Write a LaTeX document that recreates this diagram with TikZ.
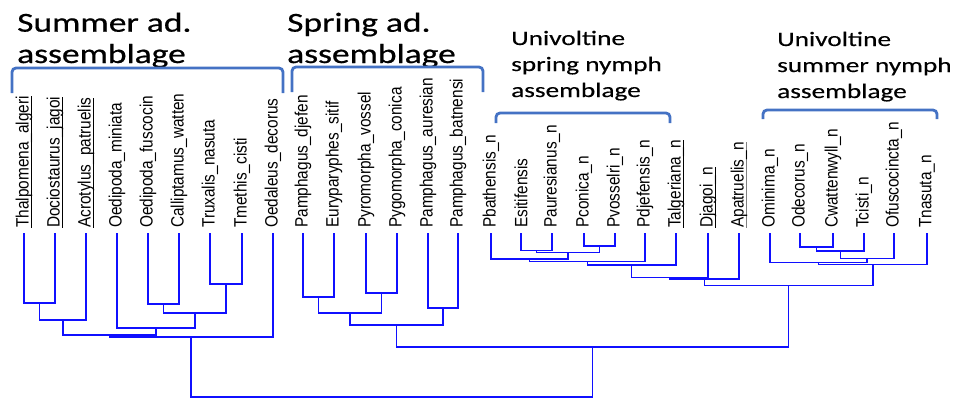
\documentclass[tikz,border=0pt]{standalone}
\usepackage{fontspec}
\usepackage{graphicx}
\setmainfont{Liberation Sans}
\newfontfamily\bigtitlefont[FakeStretch=1.29,FakeBold=0.6]{Carlito}
\newfontfamily\smalltitlefont[FakeStretch=1.33,FakeBold=0.4]{Carlito}
\usetikzlibrary{calc}
\definecolor{bracketblue}{HTML}{4472C4}
\definecolor{treeblue}{HTML}{1010FF}
\newcommand\splab[1]{\scalebox{1}[1.16]{#1}}
\newcommand\spulab[2][black]{\setbox0=\hbox{#2}\scalebox{1}[1.16]{\rlap{\color{#1}\rule[-2.6bp]{\wd0}{0.9bp}}\box0}}
\newcommand\joinat[4]{%
  \path let \p1=($(#2)!0.5!(#3)$), \p2=(0,#4) in coordinate (#1) at (\x1,\y2);
  \draw[tree] (#2) -- (#2 |- #1) -- (#3 |- #1) -- (#3);}
\begin{document}
\begin{tikzpicture}[x=1bp,y=-1bp,
  tree/.style={draw=treeblue, line width=1.5bp},
  bracket/.style={draw=bracketblue, line width=2.8bp, rounded corners=4bp},
  leaflabel/.style={rotate=90, anchor=west, inner sep=0pt, font=\fontsize{15.4bp}{18bp}\selectfont},
  bigtitle/.style={anchor=base west, inner sep=0pt, font=\bigtitlefont\fontsize{27.5bp}{31.3bp}\selectfont},
  smalltitle/.style={anchor=base west, inner sep=0pt, font=\smalltitlefont\fontsize{20.5bp}{26bp}\selectfont}]
\useasboundingbox (0,0) rectangle (959,401);

% titles
\node[bigtitle] (tsum) at (17,31.7) {\vtop{\hbox{Summer ad.}\hbox{assemblage}}};
\node[bigtitle] (tspr) at (287,31.7) {\vtop{\hbox{Spring ad.}\hbox{assemblage}}};
\node[smalltitle] (tusp) at (511,45) {\vtop{\hbox{Univoltine}\hbox{spring nymph}\hbox{assemblage}}};
\node[smalltitle] (tusu) at (777,46) {\vtop{\hbox{Univoltine}\hbox{summer nymph}\hbox{assemblage}}};

% brackets
\draw[bracket] (12,93) -- (12,68) -- (283,68) -- (283,93);
\draw[bracket] (292,92) -- (292,67) -- (483,67) -- (483,92);
\draw[bracket] (496,123) -- (496,113) -- (670,113) -- (670,123);
\draw[bracket] (763,119) -- (763,110) -- (937,110) -- (937,119);

% leaves
\foreach \n/\x in {l1/24,l2/55,l3/86,l4/117,l5/148,l6/179,l7/210,l8/242,l9/273,
  m1/303,m2/334,m3/366,m4/397,m5/428,m6/458,
  r1/491,r2/521,r3/552,r4/584,r5/615,r6/645,r7/676,r8/708,r9/739,
  s1/770,s2/800,s3/833,s4/864,s5/894,s6/927}
  {\coordinate (\n) at (\x,233);}

% labels
\node[leaflabel] (nl1) at (24,228) {\spulab{Thalpomena\_algeri}};
\node[leaflabel] (nl2) at (55,228) {\spulab{Dociostaurus\_jagoi}};
\node[leaflabel] (nl3) at (86,228) {\spulab{Acrotylus\_patruelis}};
\node[leaflabel] (nl4) at (117,228) {\splab{Oedipoda\_miniata}};
\node[leaflabel] (nl5) at (148,228) {\splab{Oedipoda\_fuscocin}};
\node[leaflabel] (nl6) at (179,228) {\splab{Calliptamus\_watten}};
\node[leaflabel] (nl7) at (210,228) {\splab{Truxalis\_nasuta}};
\node[leaflabel] (nl8) at (242,228) {\splab{Tmethis\_cisti}};
\node[leaflabel] (nl9) at (273,228) {\splab{Oedaleus\_decorus}};
\node[leaflabel] (nm1) at (303,228) {\splab{Pamphagus\_djefen}};
\node[leaflabel] (nm2) at (334,228) {\splab{Euryparyphes\_sitif}};
\node[leaflabel] (nm3) at (366,228) {\splab{Pyromorpha\_vossel}};
\node[leaflabel] (nm4) at (397,228) {\splab{Pygomorpha\_conica}};
\node[leaflabel] (nm5) at (428,228) {\splab{Pamphagus\_auresian}};
\node[leaflabel] (nm6) at (458,228) {\splab{Pamphagus\_batnensi}};
\node[leaflabel] (nr1) at (491,228) {\splab{Pbathensis\_n}};
\node[leaflabel] (nr2) at (521,228) {\splab{Esitifensis}};
\node[leaflabel] (nr3) at (552,228) {\splab{Pauresianus\_n}};
\node[leaflabel] (nr4) at (584,228) {\splab{Pconica\_n}};
\node[leaflabel] (nr5) at (615,228) {\splab{Pvosselri\_n}};
\node[leaflabel] (nr6) at (645,228) {\splab{Pdjefensis\_n}};
\node[leaflabel] (nr7) at (676,228) {\spulab{Talgeriana\_n}};
\node[leaflabel] (nr8) at (708,228) {\spulab{Djagoi\_n}};
\node[leaflabel] (nr9) at (739,228) {\spulab[gray]{Apatruelis\_n}};
\node[leaflabel] (ns1) at (770,228) {\splab{Ominima\_n}};
\node[leaflabel] (ns2) at (800,228) {\splab{Odecorus\_n}};
\node[leaflabel] (ns3) at (833,228) {\splab{Cwattenwyll\_n}};
\node[leaflabel] (ns4) at (864,228) {\splab{Tcisti\_n}};
\node[leaflabel] (ns5) at (894,228) {\splab{Ofuscocincta\_n}};
\node[leaflabel] (ns6) at (927,228) {\splab{Tnasuta\_n}};

% dendrogram joins
\joinat{a1}{l1}{l2}{303}
\joinat{a2}{a1}{l3}{320}
\joinat{a3}{l5}{l6}{304}
\joinat{a4}{l7}{l8}{284}
\joinat{a5}{a3}{a4}{313}
\joinat{a6}{l4}{a5}{328}
\joinat{a7}{a2}{a6}{335}
\joinat{a8}{a7}{l9}{337}
\joinat{b1}{m1}{m2}{297}
\joinat{b2}{m3}{m4}{293}
\joinat{b3}{b1}{b2}{313}
\joinat{b4}{m5}{m6}{308}
\joinat{b5}{b3}{b4}{325}
\joinat{c1}{r2}{r3}{250.7}
\joinat{c2}{r4}{r5}{246}
\joinat{c3}{c1}{c2}{252.3}
\joinat{c4}{r1}{c3}{259}
\joinat{c5}{c4}{r6}{261.3}
\joinat{c6}{c5}{r7}{265}
\joinat{c7}{c6}{r8}{277.7}
\joinat{c8}{c7}{r9}{279}
\joinat{d1}{s2}{s3}{247}
\joinat{d2}{d1}{s4}{251}
\joinat{d3}{d2}{s5}{258.7}
\joinat{d4}{s1}{d3}{262.3}
\joinat{d5}{d4}{s6}{264.7}
\joinat{e1}{c8}{d5}{285.7}
\joinat{e2}{b5}{e1}{347}
\joinat{root}{a8}{e2}{397}
\end{tikzpicture}
\end{document}
